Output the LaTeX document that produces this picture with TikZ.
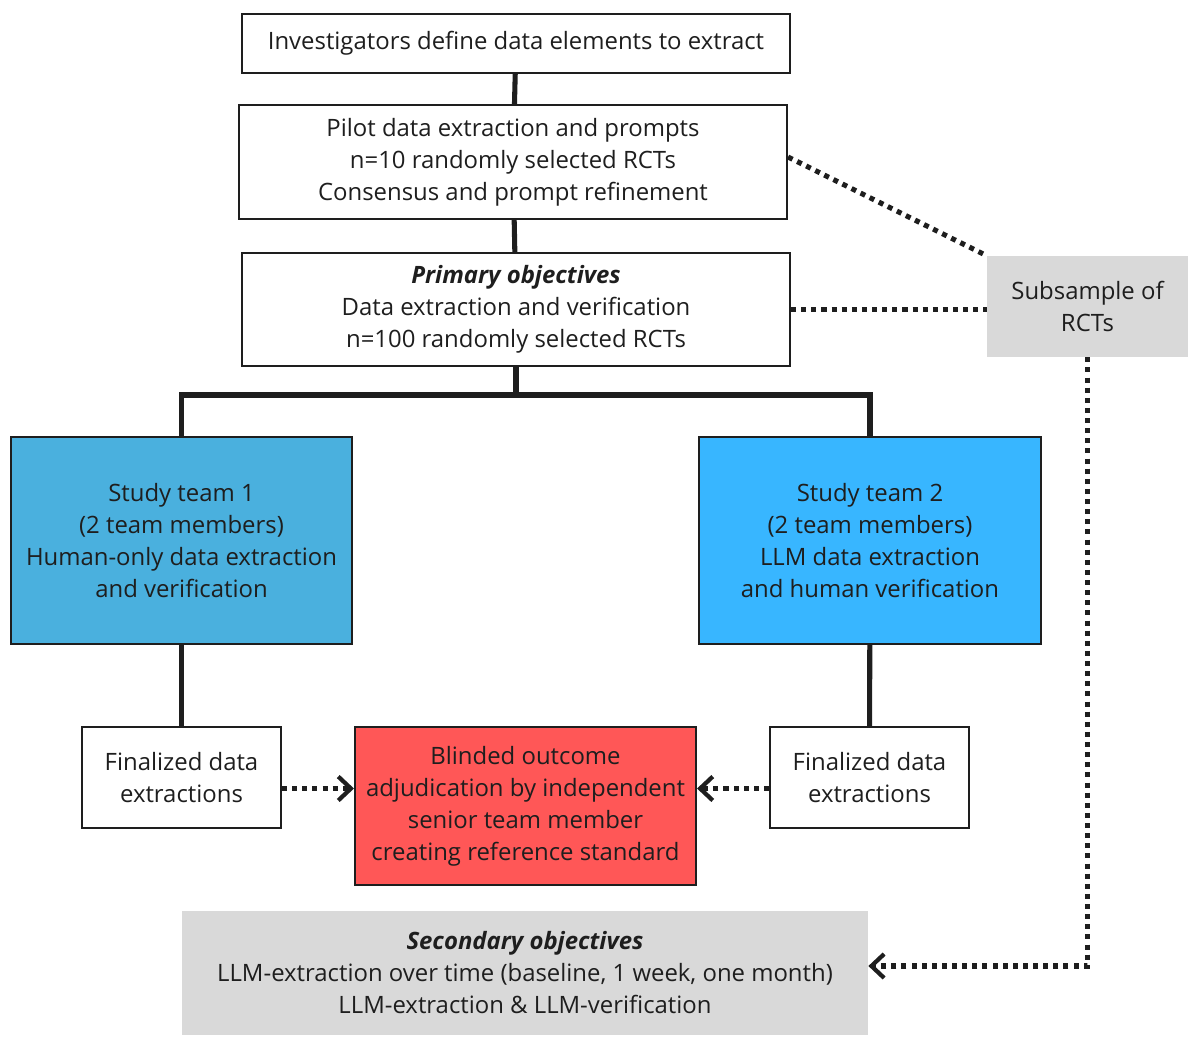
\documentclass[tikz,border=0pt]{standalone}
\usepackage{fontspec}
\setmainfont{Open Sans}
\usetikzlibrary{arrows.meta}

\definecolor{teamone}{HTML}{4AB0DE}
\definecolor{teamtwo}{HTML}{38B6FF}
\definecolor{adjred}{HTML}{FF5757}
\definecolor{subgray}{HTML}{D9D9D9}
\definecolor{inkdark}{HTML}{1E1E1E}

\tikzset{
  flowbox/.style={draw=inkdark, line width=1.4pt, align=center, inner sep=0pt,
    text=inkdark, font=\fontsize{17}{22.76}\selectfont},
  greybox/.style={fill=subgray, align=center, inner sep=0pt,
    text=inkdark, font=\fontsize{17}{22.76}\selectfont},
  solidlink/.style={line width=3.6pt, inkdark},
  dotlink/.style={line width=3.6pt, inkdark, dash pattern=on 3.6pt off 3.6pt},
  dotarrow/.style={dotlink, -{Straight Barb[length=9pt, width=17pt, line width=3pt]}}
}

\begin{document}
\begin{tikzpicture}[x=0.025cm, y=-0.025cm]
  \useasboundingbox (0,0) rectangle (1203,1052);

  % Upper column of boxes
  \node[flowbox, minimum width=13.7cm, minimum height=1.475cm] (define) at (516,43.5)
    {Investigators define data elements to extract};
  \node[flowbox, minimum width=13.7cm, minimum height=2.85cm] (pilot) at (513,162)
    {Pilot data extraction and prompts\\ n=10 randomly selected RCTs\\ Consensus and prompt refinement};
  \node[flowbox, minimum width=13.7cm, minimum height=2.825cm] (primary) at (516,309.5)
    {\textbf{\textit{Primary objectives}}\\ Data extraction and verification\\ n=100 randomly selected RCTs};
  \node[greybox, minimum width=5.025cm, minimum height=2.525cm] (subsample) at (1087.5,306.5)
    {Subsample of\\ RCTs};

  % Study teams
  \node[flowbox, fill=teamone, minimum width=8.525cm, minimum height=5.175cm] (teamA) at (181.5,540.5)
    {Study team 1\\ (2 team members)\\ Human-only data extraction\\ and verification};
  \node[flowbox, fill=teamtwo, minimum width=8.525cm, minimum height=5.175cm] (teamB) at (870,540.5)
    {Study team 2\\ (2 team members)\\ LLM data extraction\\ and human verification};

  % Lower row
  \node[flowbox, minimum width=4.975cm, minimum height=2.525cm] (finalA) at (181.5,777.5)
    {Finalized data\\ extractions};
  \node[flowbox, fill=adjred, minimum width=8.525cm, minimum height=3.95cm] (blinded) at (525.5,806)
    {Blinded outcome\\ adjudication by independent\\ senior team member\\ creating reference standard};
  \node[flowbox, minimum width=4.975cm, minimum height=2.525cm] (finalB) at (869.5,777.5)
    {Finalized data\\ extractions};
  \node[greybox, minimum width=17.15cm, minimum height=3.1cm] (secondary) at (525,973)
    {\textbf{\textit{Secondary objectives}}\\ LLM-extraction over time (baseline, 1 week, one month)\\ LLM-extraction \& LLM-verification};

  % Solid links
  \draw[solidlink] (define) -- (pilot);
  \draw[solidlink] (pilot) -- (primary);
  \coordinate (split) at (516,395);
  \draw[solidlink] (primary.south) -- (split);
  \draw[solidlink] ([xshift=-1.775pt]split -| teamA.north) -- (split -| teamB.north) -- (teamB.north);
  \draw[solidlink] (split -| teamA.north) -- (teamA.north);
  \draw[solidlink] (teamA) -- (finalA);
  \draw[solidlink] (teamB) -- (finalB);

  % Dotted links to the subsample
  \draw[dotlink] ([yshift=0.125cm]pilot.east) -- (subsample.north west);
  \draw[dotlink] (primary.east) -- (primary.east -| subsample.west);
  \coordinate (turn) at (subsample.south |- 0,966);
  \draw[dotarrow] (subsample.south) -- (turn) -- (turn -| secondary.east);

  % Dotted arrows into the adjudication box
  \coordinate (fromA) at ([yshift=-0.275cm]finalA.east);
  \coordinate (fromB) at ([yshift=-0.275cm]finalB.west);
  \draw[dotarrow] (fromA) -- (fromA -| blinded.west);
  \draw[dotarrow] (fromB) -- (fromB -| blinded.east);
\end{tikzpicture}
\end{document}
